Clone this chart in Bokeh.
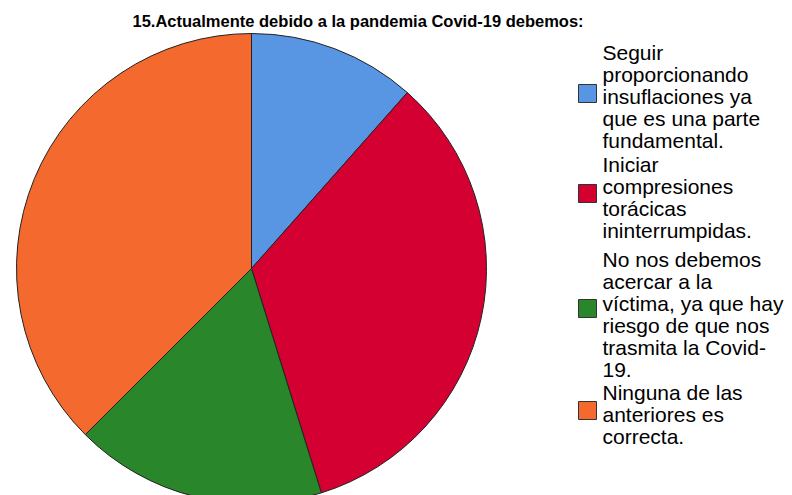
import numpy as np
from bokeh.plotting import figure
from bokeh.models import Range1d, ColumnDataSource
from bokeh.core.properties import value
from bokeh.embed import file_html
from bokeh.resources import INLINE

title = "15.Actualmente debido a la pandemia Covid-19 debemos:"
categories = [
    "Seguir\nproporcionando\ninsuflaciones ya\nque es una parte\nfundamental.",
    "Iniciar\ncompresiones\ntorácicas\nininterrumpidas.",
    "No nos debemos\nacercar a la\nvíctima, ya que hay\nriesgo de que nos\ntrasmita la Covid-\n19.",
    "Ninguna de las\nanteriores es\ncorrecta.",
]
counts = [12, 35, 18, 39]
colors = ["#5896e4", "#d50032", "#2a862b", "#f3692e"]

W, H = 792, 495
p = figure(width=W, height=H, output_backend="svg", toolbar_location=None,
           x_range=Range1d(0, W), y_range=Range1d(495 - H, 495),
           min_border=0, outline_line_color=None, background_fill_color="white")
p.axis.visible = False
p.grid.visible = False

# pie
vals = np.array(counts, dtype=float)
frac = vals / vals.sum()
cum = np.concatenate([[0], np.cumsum(frac)])
start = np.pi / 2 - cum[:-1] * 2 * np.pi
end = np.pi / 2 - cum[1:] * 2 * np.pi
cx, cy, r = 251, 495 - 268, 235
src = ColumnDataSource(dict(start=start, end=end, color=colors))
p.wedge(x=cx, y=cy, radius=r, start_angle="start", end_angle="end",
        direction="clock", fill_color="color", line_color="#222222",
        line_width=1, source=src)

# title
p.text(x=[132], y=[495 - 20], text=[title], text_font=value("Liberation Sans"),
       text_font_size="16.5px", text_font_style="bold", text_color="black",
       text_align="left", text_baseline="middle")

# legend
block_y = [495 - 96, 495 - 197, 495 - 314, 495 - 414]
sq_y = [495 - 93, 495 - 193, 495 - 308, 495 - 410]
p.rect(x=[587] * 4, y=sq_y, width=18, height=18, width_units="screen",
       height_units="screen", fill_color=colors, line_color="#333333", line_width=1)
p.text(x=[602] * 4, y=block_y, text=categories, text_font=value("Liberation Sans"),
       text_font_size="21px", text_color="black", text_align="left",
       text_baseline="middle", text_line_height=0.95)

open("out.html", "w").write(file_html(p, INLINE))
